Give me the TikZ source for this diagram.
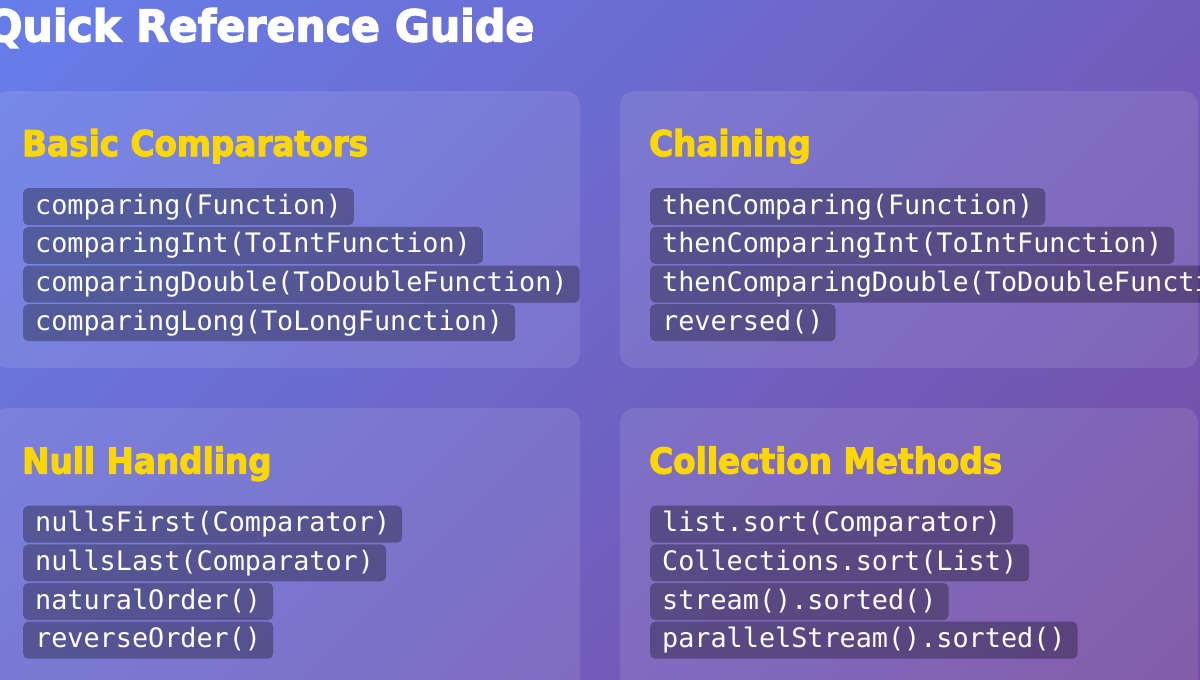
\documentclass[tikz,border=0pt]{standalone}
\usepackage{fontspec}
\setmainfont{DejaVu Sans}
\newfontfamily\titlefont[FakeStretch=0.97,FakeBold=3]{DejaVu Sans Bold}
\newfontfamily\headfont[FakeStretch=0.92,FakeBold=3]{DejaVu Sans Bold}
\newfontfamily\codefont{DejaVu Sans Mono}
\definecolor{gA}{HTML}{667EEA}
\definecolor{gB}{HTML}{764BA2}
\definecolor{gold}{HTML}{FFD700}
\begin{document}
\begin{tikzpicture}[x=1pt,y=-1pt,
  card/.style={fill=white, fill opacity=0.1, rounded corners=15pt},
  chip/.style={anchor=north west, fill=black, fill opacity=0.3, text opacity=1, text=white,
    rounded corners=5pt, inner xsep=12pt, inner ysep=4pt, text height=22pt, text depth=7pt,
    font={\codefont\fontsize{26.8}{30}\selectfont}},
  heading/.style={anchor=base west, inner sep=0pt, text=gold,
    font={\headfont\fontsize{35.5}{40}\selectfont}},
  titletext/.style={anchor=base west, inner sep=0pt, text=white,
    font={\titlefont\fontsize{44}{48}\selectfont}}]
\useasboundingbox (0,0) rectangle (1200,680);
\clip (0,0) rectangle (1200,680);
% background gradient (135deg)
\foreach \i in {0,...,93} {
  \pgfmathsetmacro\ca{\i*20}
  \pgfmathsetmacro\cb{\i*20+21}
  \pgfmathsetmacro\p{100-(\i+0.5)*100/94}
  \fill[gA!\p!gB] (\ca,0) -- (\cb,0) -- (\cb-680,680) -- (\ca-680,680) -- cycle;
}
% title
\node[titletext] (title) at (-14,41.5) {Quick Reference Guide};
% cards
\fill[card] (-7,91) rectangle (580,368);
\fill[card] (620,91) rectangle (1198,368);
\fill[card] (-7,408) rectangle (580,700);
\fill[card] (620,408) rectangle (1198,700);
% headings
\node[heading] (h1) at (22,156) {Basic Comparators};
\node[heading] (h2) at (649,156) {Chaining};
\node[heading] (h3) at (22,473.5) {Null Handling};
\node[heading] (h4) at (649,473.5) {Collection Methods};
% card 1
\node[chip] (a1) at (23,188) {comparing(Function)};
\node[chip] (a2) at (23,226.7) {comparingInt(ToIntFunction)};
\node[chip] (a3) at (23,265.3) {comparingDouble(ToDoubleFunction)};
\node[chip] (a4) at (23,304) {comparingLong(ToLongFunction)};
% card 2
\node[chip] (b1) at (650,188) {thenComparing(Function)};
\node[chip] (b2) at (650,226.7) {thenComparingInt(ToIntFunction)};
\node[chip] (b3) at (650,265.3) {thenComparingDouble(ToDoubleFunction)};
\node[chip] (b4) at (650,304) {reversed()};
% card 3
\node[chip] (c1) at (23,505.5) {nullsFirst(Comparator)};
\node[chip] (c2) at (23,544.2) {nullsLast(Comparator)};
\node[chip] (c3) at (23,582.8) {naturalOrder()};
\node[chip] (c4) at (23,621.5) {reverseOrder()};
% card 4
\node[chip] (d1) at (650,505.5) {list.sort(Comparator)};
\node[chip] (d2) at (650,544.2) {Collections.sort(List)};
\node[chip] (d3) at (650,582.8) {stream().sorted()};
\node[chip] (d4) at (650,621.5) {parallelStream().sorted()};
\end{tikzpicture}
\end{document}
